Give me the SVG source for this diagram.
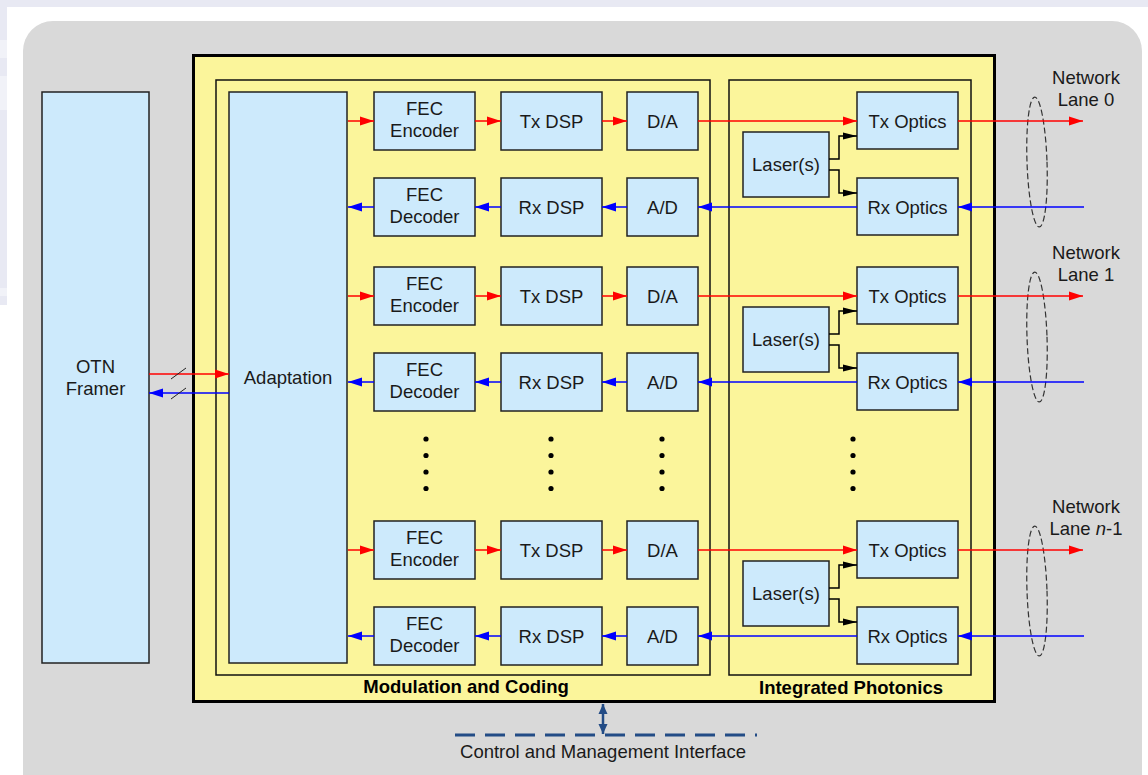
<svg xmlns="http://www.w3.org/2000/svg" width="1148" height="775" viewBox="0 0 1148 775">
  <defs>
    <marker id="ahRed" markerUnits="userSpaceOnUse" markerWidth="14" markerHeight="10" refX="14" refY="5" orient="auto">
      <path d="M0,0.5 L14,5 L0,9.5 z" fill="#ff0000"/>
    </marker>
    <marker id="ahBlue" markerUnits="userSpaceOnUse" markerWidth="14" markerHeight="10" refX="14" refY="5" orient="auto">
      <path d="M0,0.5 L14,5 L0,9.5 z" fill="#0000ff"/>
    </marker>
    <marker id="ahBlack" markerUnits="userSpaceOnUse" markerWidth="14" markerHeight="8" refX="14" refY="4" orient="auto">
      <path d="M0,0.5 L14,4 L0,7.5 z" fill="#000"/>
    </marker>
    <marker id="ahCtl" markerUnits="userSpaceOnUse" markerWidth="10" markerHeight="10" refX="10" refY="5" orient="auto-start-reverse">
      <path d="M0,0.5 L10,5 L0,9.5 z" fill="#234c86"/>
    </marker>
  </defs>
  <style>
    .blk { fill: #cdeafc; stroke: #222; stroke-width: 1.5; }
    .frame { fill: none; stroke: #111; stroke-width: 1.5; }
    .t { font-family: "Liberation Sans", Arial, sans-serif; font-size: 18.5px; fill: #1a1a1a; text-anchor: middle; }
    .b { font-family: "Liberation Sans", Arial, sans-serif; font-size: 18.5px; font-weight: bold; fill: #000; text-anchor: middle; }
    .tx { stroke: #ff0000; stroke-width: 1.5; fill: none; marker-end: url(#ahRed); }
    .rx { stroke: #0000ff; stroke-width: 1.5; fill: none; marker-end: url(#ahBlue); }
    .las { stroke: #000; stroke-width: 1.5; fill: none; marker-end: url(#ahBlack); }
    .lane { fill: none; stroke: #333; stroke-width: 1.2; stroke-dasharray: 6 3; }
    .dot { fill: #000; }
  </style>

  <!-- page background -->
  <rect x="0" y="0" width="1148" height="775" fill="#ffffff"/>
  <rect x="0" y="0" width="1148" height="7" fill="#e8e9f3"/>
  <rect x="0" y="0" width="7" height="305" fill="#e8e9f3"/>
  <rect x="0" y="40" width="7" height="18" fill="#f1f2f8"/>
  <rect x="0" y="76" width="7" height="34" fill="#f1f2f8"/>
  <rect x="0" y="288" width="7" height="8" fill="#f1f2f8"/>
  <rect x="23" y="21" width="1119" height="790" rx="30" ry="30" fill="#d9d9d9"/>

  <!-- module enclosure -->
  <g id="module">
    <rect x="193.5" y="55.5" width="801" height="646" fill="#fbf59b" stroke="#000" stroke-width="3"/>
  </g>
  <g id="modulation-coding">
    <rect class="frame" x="216" y="80" width="494" height="595"/>
    <text class="b" x="466" y="693">Modulation and Coding</text>
  </g>
  <g id="integrated-photonics">
    <rect class="frame" x="729" y="80" width="242" height="595"/>
    <text class="b" x="851" y="694">Integrated Photonics</text>
  </g>

  <!-- host side -->
  <g id="otn-framer">
    <rect class="blk" x="42" y="92" width="107" height="571"/>
    <text class="t" x="95.5" y="373">OTN</text>
    <text class="t" x="95.5" y="395">Framer</text>
  </g>
  <g id="adaptation">
    <rect class="blk" x="229" y="92" width="118" height="571"/>
    <text class="t" x="288" y="384">Adaptation</text>
  </g>

  <!-- lane 0 -->
  <g id="fec-enc-0"><rect class="blk" x="374" y="92" width="101" height="58"/><text class="t" x="424.5" y="115">FEC</text><text class="t" x="424.5" y="137">Encoder</text></g>
  <g id="tx-dsp-0"><rect class="blk" x="501" y="92" width="101" height="58"/><text class="t" x="551.5" y="128">Tx DSP</text></g>
  <g id="da-0"><rect class="blk" x="627" y="92" width="71" height="58"/><text class="t" x="662.5" y="128">D/A</text></g>
  <g id="fec-dec-0"><rect class="blk" x="374" y="178" width="101" height="58"/><text class="t" x="424.5" y="201">FEC</text><text class="t" x="424.5" y="223">Decoder</text></g>
  <g id="rx-dsp-0"><rect class="blk" x="501" y="178" width="101" height="58"/><text class="t" x="551.5" y="214">Rx DSP</text></g>
  <g id="ad-0"><rect class="blk" x="627" y="178" width="71" height="58"/><text class="t" x="662.5" y="214">A/D</text></g>
  <g id="laser-0"><rect class="blk" x="743" y="132" width="86" height="65"/><text class="t" x="786" y="171">Laser(s)</text></g>
  <g id="tx-optics-0"><rect class="blk" x="857" y="92" width="101" height="57"/><text class="t" x="907.5" y="128">Tx Optics</text></g>
  <g id="rx-optics-0"><rect class="blk" x="857" y="178" width="101" height="57"/><text class="t" x="907.5" y="214">Rx Optics</text></g>
  <g id="network-lane-0">
    <ellipse class="lane" cx="1037" cy="162" rx="10" ry="65" transform="rotate(-2 1037 162)"/>
    <text class="t" x="1086" y="84">Network</text>
    <text class="t" x="1086" y="106">Lane 0</text>
  </g>

  <!-- lane 1 -->
  <g id="fec-enc-1"><rect class="blk" x="374" y="267" width="101" height="58"/><text class="t" x="424.5" y="290">FEC</text><text class="t" x="424.5" y="312">Encoder</text></g>
  <g id="tx-dsp-1"><rect class="blk" x="501" y="267" width="101" height="58"/><text class="t" x="551.5" y="303">Tx DSP</text></g>
  <g id="da-1"><rect class="blk" x="627" y="267" width="71" height="58"/><text class="t" x="662.5" y="303">D/A</text></g>
  <g id="fec-dec-1"><rect class="blk" x="374" y="353" width="101" height="58"/><text class="t" x="424.5" y="376">FEC</text><text class="t" x="424.5" y="398">Decoder</text></g>
  <g id="rx-dsp-1"><rect class="blk" x="501" y="353" width="101" height="58"/><text class="t" x="551.5" y="389">Rx DSP</text></g>
  <g id="ad-1"><rect class="blk" x="627" y="353" width="71" height="58"/><text class="t" x="662.5" y="389">A/D</text></g>
  <g id="laser-1"><rect class="blk" x="743" y="307" width="86" height="65"/><text class="t" x="786" y="346">Laser(s)</text></g>
  <g id="tx-optics-1"><rect class="blk" x="857" y="267" width="101" height="57"/><text class="t" x="907.5" y="303">Tx Optics</text></g>
  <g id="rx-optics-1"><rect class="blk" x="857" y="353" width="101" height="57"/><text class="t" x="907.5" y="389">Rx Optics</text></g>
  <g id="network-lane-1">
    <ellipse class="lane" cx="1037" cy="337" rx="10" ry="65" transform="rotate(-2 1037 337)"/>
    <text class="t" x="1086" y="259">Network</text>
    <text class="t" x="1086" y="281">Lane 1</text>
  </g>

  <!-- lane n-1 -->
  <g id="fec-enc-n"><rect class="blk" x="374" y="521" width="101" height="58"/><text class="t" x="424.5" y="544">FEC</text><text class="t" x="424.5" y="566">Encoder</text></g>
  <g id="tx-dsp-n"><rect class="blk" x="501" y="521" width="101" height="58"/><text class="t" x="551.5" y="557">Tx DSP</text></g>
  <g id="da-n"><rect class="blk" x="627" y="521" width="71" height="58"/><text class="t" x="662.5" y="557">D/A</text></g>
  <g id="fec-dec-n"><rect class="blk" x="374" y="607" width="101" height="58"/><text class="t" x="424.5" y="630">FEC</text><text class="t" x="424.5" y="652">Decoder</text></g>
  <g id="rx-dsp-n"><rect class="blk" x="501" y="607" width="101" height="58"/><text class="t" x="551.5" y="643">Rx DSP</text></g>
  <g id="ad-n"><rect class="blk" x="627" y="607" width="71" height="58"/><text class="t" x="662.5" y="643">A/D</text></g>
  <g id="laser-n"><rect class="blk" x="743" y="561" width="86" height="65"/><text class="t" x="786" y="600">Laser(s)</text></g>
  <g id="tx-optics-n"><rect class="blk" x="857" y="521" width="101" height="57"/><text class="t" x="907.5" y="557">Tx Optics</text></g>
  <g id="rx-optics-n"><rect class="blk" x="857" y="607" width="101" height="57"/><text class="t" x="907.5" y="643">Rx Optics</text></g>
  <g id="network-lane-n">
    <ellipse class="lane" cx="1037" cy="591" rx="10" ry="65" transform="rotate(-2 1037 591)"/>
    <text class="t" x="1086" y="513">Network</text>
    <text class="t" x="1086" y="535">Lane <tspan font-style="italic">n</tspan>-1</text>
  </g>

  <!-- ellipsis between lanes -->
  <g id="ellipsis">
    <circle class="dot" cx="426" cy="439" r="2.6"/><circle class="dot" cx="426" cy="455.5" r="2.6"/><circle class="dot" cx="426" cy="472" r="2.6"/><circle class="dot" cx="426" cy="488.5" r="2.6"/>
    <circle class="dot" cx="551" cy="439" r="2.6"/><circle class="dot" cx="551" cy="455.5" r="2.6"/><circle class="dot" cx="551" cy="472" r="2.6"/><circle class="dot" cx="551" cy="488.5" r="2.6"/>
    <circle class="dot" cx="662" cy="439" r="2.6"/><circle class="dot" cx="662" cy="455.5" r="2.6"/><circle class="dot" cx="662" cy="472" r="2.6"/><circle class="dot" cx="662" cy="488.5" r="2.6"/>
    <circle class="dot" cx="853" cy="439" r="2.6"/><circle class="dot" cx="853" cy="455.5" r="2.6"/><circle class="dot" cx="853" cy="472" r="2.6"/><circle class="dot" cx="853" cy="488.5" r="2.6"/>
  </g>

  <!-- control interface -->
  <g id="control-interface">
    <line x1="455" y1="735" x2="757" y2="735" stroke="#234c86" stroke-width="3" stroke-dasharray="20 10"/>
    <text class="t" x="603" y="758">Control and Management Interface</text>
  </g>

  <g id="connectors">
    <!-- framer to adaptation -->
    <line class="tx" x1="149" y1="374" x2="229" y2="374"/>
    <line class="rx" x1="229" y1="393" x2="149" y2="393"/>
    <line x1="171" y1="379" x2="186" y2="368" stroke="#222" stroke-width="1"/>
    <line x1="171" y1="399" x2="186" y2="388" stroke="#222" stroke-width="1"/>

    <!-- lane 0 -->
    <line class="tx" x1="348" y1="121" x2="374" y2="121"/>
    <line class="tx" x1="475" y1="121" x2="501" y2="121"/>
    <line class="tx" x1="602" y1="121" x2="627" y2="121"/>
    <line class="tx" x1="698" y1="121" x2="857" y2="121"/>
    <line class="tx" x1="958" y1="121" x2="1083" y2="121"/>
    <line class="rx" x1="1084" y1="207" x2="958" y2="207"/>
    <line class="rx" x1="857" y1="207" x2="698" y2="207"/>
    <line class="rx" x1="627" y1="207" x2="602" y2="207"/>
    <line class="rx" x1="501" y1="207" x2="475" y2="207"/>
    <line class="rx" x1="374" y1="207" x2="348" y2="207"/>
    <polyline class="las" points="829,159 839,159 839,136 857,136"/>
    <polyline class="las" points="829,170 839,170 839,193 857,193"/>

    <!-- lane 1 -->
    <line class="tx" x1="348" y1="296" x2="374" y2="296"/>
    <line class="tx" x1="475" y1="296" x2="501" y2="296"/>
    <line class="tx" x1="602" y1="296" x2="627" y2="296"/>
    <line class="tx" x1="698" y1="296" x2="857" y2="296"/>
    <line class="tx" x1="958" y1="296" x2="1083" y2="296"/>
    <line class="rx" x1="1084" y1="382" x2="958" y2="382"/>
    <line class="rx" x1="857" y1="382" x2="698" y2="382"/>
    <line class="rx" x1="627" y1="382" x2="602" y2="382"/>
    <line class="rx" x1="501" y1="382" x2="475" y2="382"/>
    <line class="rx" x1="374" y1="382" x2="348" y2="382"/>
    <polyline class="las" points="829,334 839,334 839,311 857,311"/>
    <polyline class="las" points="829,345 839,345 839,368 857,368"/>

    <!-- lane n-1 -->
    <line class="tx" x1="348" y1="550" x2="374" y2="550"/>
    <line class="tx" x1="475" y1="550" x2="501" y2="550"/>
    <line class="tx" x1="602" y1="550" x2="627" y2="550"/>
    <line class="tx" x1="698" y1="550" x2="857" y2="550"/>
    <line class="tx" x1="958" y1="550" x2="1083" y2="550"/>
    <line class="rx" x1="1084" y1="636" x2="958" y2="636"/>
    <line class="rx" x1="857" y1="636" x2="698" y2="636"/>
    <line class="rx" x1="627" y1="636" x2="602" y2="636"/>
    <line class="rx" x1="501" y1="636" x2="475" y2="636"/>
    <line class="rx" x1="374" y1="636" x2="348" y2="636"/>
    <polyline class="las" points="829,588 839,588 839,565 857,565"/>
    <polyline class="las" points="829,599 839,599 839,622 857,622"/>

    <!-- management link -->
    <line x1="603" y1="704" x2="603" y2="734" stroke="#234c86" stroke-width="2.5" marker-start="url(#ahCtl)" marker-end="url(#ahCtl)"/>
  </g>
</svg>
